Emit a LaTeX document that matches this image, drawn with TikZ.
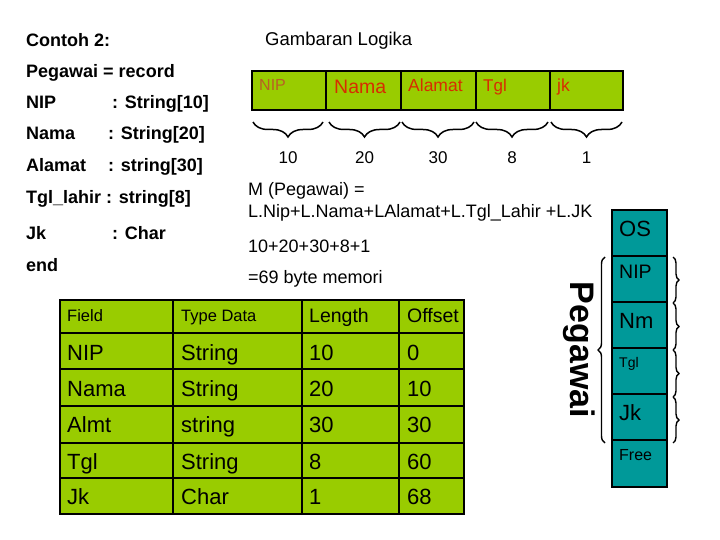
\documentclass[tikz,border=0pt]{standalone}
\usepackage{fontspec}
\setmainfont{Liberation Sans}
\usetikzlibrary{decorations.pathreplacing}
\definecolor{recgreen}{RGB}{153,204,0}
\definecolor{memteal}{RGB}{0,153,153}
\definecolor{labred}{RGB}{215,45,0}
\definecolor{nipbrown}{RGB}{185,95,35}
\newcommand{\fs}[1]{\fontsize{#1}{#1}\selectfont}
\begin{document}
\begin{tikzpicture}[x=1pt,y=-1pt,
  code/.style={anchor=base west,inner sep=0pt,font=\fs{18}\bfseries},
  plain/.style={anchor=base west,inner sep=0pt,font=\fs{18}},
  reclab/.style={anchor=base west,inner sep=0pt,text=labred},
  cell/.style={anchor=base west,inner sep=0pt,font=\fs{22}},
  memlab/.style={anchor=west,inner sep=0pt},
  brc/.style={decorate,decoration={brace,amplitude=#1},line width=1.4pt},
  brcm/.style={decorate,decoration={brace,mirror,amplitude=#1},line width=1.5pt}]
\useasboundingbox (0,0) rectangle (720,540);
% left code
\node[code] (c0) at (26,46.5) {Contoh 2:};
\node[code] (c1) at (26,77.5) {Pegawai = record};
\node[code] (c2) at (26,108.5) {NIP};
\node[code] (c2b) at (112,108.5) {: String[10]};
\node[code] (c3) at (26,140) {Nama};
\node[code] (c3b) at (108,140) {: String[20]};
\node[code] (c4) at (26,172) {Alamat};
\node[code] (c4b) at (108,172) {: string[30]};
\node[code] (c5) at (26,204) {Tgl\_lahir : string[8]};
\node[code] (c6) at (26,240) {Jk};
\node[code] (c6b) at (112,240) {: Char};
\node[code] (c7) at (26,271.5) {end};
\node[plain,font=\fs{18.5}] (gl) at (265,45.5) {Gambaran Logika};
% record bar
\draw[fill=recgreen,line width=2.5pt] (252,71) rectangle (623,110);
\foreach \xx in {326,401,476,550} \draw[line width=2pt] (\xx,71) -- (\xx,110);
\node[reclab,font=\fs{16},text=nipbrown] (rn) at (259,91) {NIP};
\node[reclab,font=\fs{19.5}] (rm) at (334,94) {Nama};
\node[reclab,font=\fs{17.5}] (ra) at (408,92) {Alamat};
\node[reclab,font=\fs{17}] (rt) at (483,92) {Tgl};
\node[reclab,font=\fs{17.5}] (rj) at (557,92) {jk};
% braces under bar
\foreach \a/\b/\v [count=\i] in {253/323/10,329/400/20,402/474/30,476/548/8,551/622/1}{
  \draw[brcm=15] (\a,122) -- (\b,122);
  \node[inner sep=0pt,font=\fs{17}] (bn\i) at ({(\a+\b)/2},158) {\v};
}
% middle text
\node[plain] (m1) at (248,196) {M (Pegawai) =};
\node[plain] (m2) at (248,218) {L.Nip+L.Nama+LAlamat+L.Tgl\_Lahir +L.JK};
\node[plain] (m3) at (248,252) {10+20+30+8+1};
\node[plain] (m4) at (248,283) {=69 byte memori};
% memory column
\draw[fill=memteal,line width=2.5pt] (612,210) rectangle (667,487);
\foreach \yy in {256,302,348,394,440} \draw[line width=2pt] (612,\yy) -- (667,\yy);
\node[memlab,font=\fs{22}] (mo) at (619,229) {OS};
\node[memlab,font=\fs{19.5}] (mn) at (619,272) {NIP};
\node[memlab,font=\fs{22}] (mm) at (619,321) {Nm};
\node[memlab,font=\fs{14}] (mt) at (619,364) {Tgl};
\node[memlab,font=\fs{22}] (mj) at (619,413) {Jk};
\node[memlab,font=\fs{16}] (mf) at (619,455) {Free};
\draw[brc=7] (605,443) -- (605,257);
\foreach \a/\b in {257/303,303/350,350/397,397/443}
  \draw[brc=6] (673,\a) -- (673,\b);
\node[inner sep=0pt,rotate=-90,font=\fs{34}\bfseries] (pg) at (579,350) {Pegawai};
% table
\draw[fill=recgreen,line width=2.5pt] (60,300) rectangle (464,514);
\foreach \yy in {333,369,406,443,478} \draw[line width=2pt] (60,\yy) -- (464,\yy);
\foreach \xx in {173,302,399} \draw[line width=2pt] (\xx,300) -- (\xx,514);
\node[cell,font=\fs{16.5}] (h1) at (67,321) {Field};
\node[cell,font=\fs{16.5}] (h2) at (181,321) {Type Data};
\node[cell,font=\fs{19.5}] (h3) at (309,322.5) {Length};
\node[cell,font=\fs{19.5}] (h4) at (407,322.5) {Offset};
\foreach \f/\t/\l/\o/\yy [count=\i] in {NIP/String/10/0/360,Nama/String/20/10/396,Almt/string/30/30/432,Tgl/String/8/60/469,Jk/Char/1/68/504}{
  \node[cell] (f\i) at (67,\yy) {\f};
  \node[cell] (t\i) at (181,\yy) {\t};
  \node[cell] (l\i) at (309,\yy) {\l};
  \node[cell] (o\i) at (407,\yy) {\o};
}
\end{tikzpicture}
\end{document}
